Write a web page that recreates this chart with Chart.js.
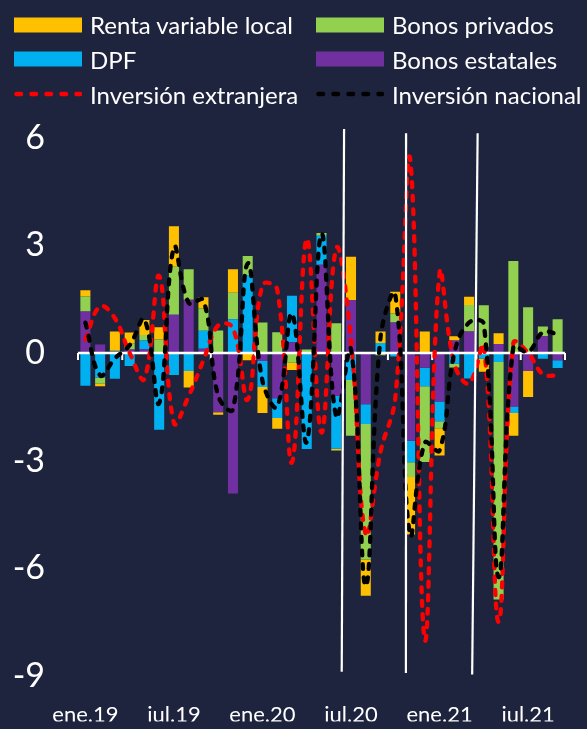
<!DOCTYPE html>
<html><head><meta charset="utf-8">
<script src="https://cdn.jsdelivr.net/npm/chart.js@4.4.1/dist/chart.umd.min.js"></script>
<style>
html,body{margin:0;padding:0;background:#1f243e;}
#wrap{position:relative;width:587px;height:729px;overflow:hidden;background:#1f243e;}
#c{position:absolute;left:0;top:0;}
#legend{position:absolute;left:0;top:0;width:587px;height:110px;font-family:Lato,sans-serif;color:#fff;font-size:24px;}
.item{position:absolute;display:flex;align-items:center;white-space:nowrap;height:30px;}
.item svg{margin-right:8px;display:block;}
</style></head>
<body><div id="wrap"><canvas id="c" width="587" height="729"></canvas><div id="legend"></div></div>
<script>
const categories = ['ene.19','feb.19','mar.19','abr.19','may.19','jun.19','jul.19','ago.19','sep.19','oct.19','nov.19','dic.19',
  'ene.20','feb.20','mar.20','abr.20','may.20','jun.20','jul.20','ago.20','sep.20','oct.20','nov.20','dic.20',
  'ene.21','feb.21','mar.21','abr.21','may.21','jun.21','jul.21','ago.21','sep.21'];
const tickLabels = ['ene.19','jul.19','ene.20','jul.20','ene.21','jul.21'];
const yTicks = [-9,-6,-3,0,3,6];

const rentaVariableLocal = [0.17,-0.07,0.52,0.30,0.42,0.34,1.13,-0.46,0.32,-0.07,0.66,-0.20,
  -0.72,-0.30,-0.20,0,0,-0.05,1.22,-1.01,0.32,0.61,-1.60,0.60,
  -0.76,0.12,0.23,-0.36,0.30,-0.64,-0.73,0,0];
const bonosPrivados = [0.42,-0.18,0.04,0.17,0.15,0.38,1.34,0.85,0.62,0.60,0.74,0.53,
  0.85,0.58,-0.27,0.10,0.08,0.83,-1.56,-3.78,-0.06,0.25,-0.41,-2.11,
  -0.20,-0.10,0.74,1.16,-6.63,2.57,1.28,0.27,0.94];
const dpf = [-0.91,-0.68,-0.72,-0.36,0.24,-2.14,-0.61,-0.50,0.50,0.03,0.94,2.18,
  -0.73,-0.55,1.30,-2.68,0.81,-1.47,-0.75,-0.55,0.28,-0.10,-0.60,-0.52,
  -0.55,-0.30,-0.71,-0.16,-0.25,-0.18,0,-0.16,-0.22];
const bonosEstatales = [1.16,0.24,0.04,0.10,0.11,0,1.07,1.49,0.12,-1.65,-3.92,0,
  -0.22,-1.26,0.30,0,2.46,-1.20,1.47,-1.43,0,0.85,-2.45,-0.41,
  -1.35,0.35,0.60,0.17,0.25,-1.49,-0.50,0.47,-0.20];
const inversionExtranjera = [0.38,1.30,0.97,0.00,-0.72,2.15,-1.95,-1.20,-0.20,0.77,0.70,-1.30,
  1.90,1.77,-3.05,3.19,-2.22,2.92,0.35,-5.06,-2.75,-1.25,5.44,-8.0,
  2.23,-0.30,-0.85,0.20,-7.5,0.28,0.0,-0.59,-0.63];
const inversionNacional = [0.85,-0.62,-0.15,0.22,0.94,-1.40,2.95,1.40,1.48,-1.20,-1.57,2.50,
  -0.78,-1.50,1.10,-2.48,3.33,-1.78,0.10,-6.50,0.44,1.63,-5.06,-2.50,
  -2.72,0.00,0.85,0.81,-6.25,0.17,0.03,0.58,0.53];

// annotation lines in data space: [startIndex, startValue, endIndex, endValue]
const breakLines = [[17.53,6.25,17.37,-8.89],[21.73,6.13,21.72,-8.93],[26.58,6.13,26.21,-8.97]];

const COLORS = {renta:'#FFC000', privados:'#92D050', dpf:'#00B0F0', estatales:'#7030A0', ext:'#FF0000', nac:'#000000'};

const zeroLinePlugin = {
  id:'zeroLine',
  afterDatasetDraw(chart, args){
    if (args.index !== 0) return;
    const {ctx, chartArea, scales:{x,y}} = chart;
    const y0 = y.getPixelForValue(0);
    ctx.save();
    ctx.strokeStyle = '#ffffff';
    ctx.lineWidth = 2.5;
    ctx.beginPath(); ctx.moveTo(chartArea.left, y0); ctx.lineTo(chartArea.right, y0); ctx.stroke();
    ctx.lineWidth = 2;
    for (let i = 0; i <= categories.length; i += 3){
      const px = x.getPixelForValue(i - 0.5);
      ctx.beginPath(); ctx.moveTo(px, y0); ctx.lineTo(px, y0 + 7); ctx.stroke();
    }
    ctx.restore();
  }
};
const breakLinesPlugin = {
  id:'breakLines',
  afterDatasetsDraw(chart){
    const {ctx, scales:{x,y}} = chart;
    ctx.save();
    ctx.strokeStyle = '#ffffff';
    ctx.lineWidth = 2.2;
    breakLines.forEach(l => {
      ctx.beginPath();
      ctx.moveTo(x.getPixelForValue(l[0]), y.getPixelForValue(l[1]));
      ctx.lineTo(x.getPixelForValue(l[2]), y.getPixelForValue(l[3]));
      ctx.stroke();
    });
    ctx.restore();
  }
};

const barDs = (label, data, color) => ({type:'bar', label, data, backgroundColor:color, borderWidth:0,
  stack:'bars', order:2, barPercentage:0.68, categoryPercentage:1});
const lineDs = (label, data, color, order) => ({type:'line', label, data, borderColor:color, backgroundColor:color,
  borderWidth:4.3, borderDash:[5,8.5], borderCapStyle:'round', pointRadius:0, tension:0.4, fill:false,
  stack:label, order});

const chart = new Chart(document.getElementById('c'), {
  data:{
    labels: categories,
    datasets:[
      barDs('Bonos estatales', bonosEstatales, COLORS.estatales),
      barDs('DPF', dpf, COLORS.dpf),
      barDs('Bonos privados', bonosPrivados, COLORS.privados),
      barDs('Renta variable local', rentaVariableLocal, COLORS.renta),
      lineDs('Inversión extranjera', inversionExtranjera, COLORS.ext, 1),
      lineDs('Inversión nacional', inversionNacional, COLORS.nac, 0)
    ]
  },
  options:{
    responsive:false, animation:false,
    layout:{padding:{top:138, right:22, left:0, bottom:0}},
    plugins:{legend:{display:false}, tooltip:{enabled:false}},
    scales:{
      x:{stacked:true, offset:true,
        grid:{display:false, drawTicks:false}, border:{display:false},
        ticks:{autoSkip:false, maxRotation:0, minRotation:0, color:'#ffffff', padding:26,
          font:{family:'Lato', size:22},
          callback:(v,i)=> tickLabels.includes(categories[i]) ? categories[i] : ''},
        afterFit:s=>{s.height = 46;}
      },
      y:{stacked:true, min:-9, max:6,
        grid:{display:false, drawTicks:false}, border:{display:false},
        afterBuildTicks:s=>{s.ticks = yTicks.map(v=>({value:v}));},
        ticks:{color:'#ffffff', padding:33, font:{family:'Lato', size:34}},
        afterFit:s=>{s.width = 78;}
      }
    }
  },
  plugins:[zeroLinePlugin, breakLinesPlugin]
});

// HTML legend built from the chart datasets
const legendOrder = ['Renta variable local','Bonos privados','DPF','Bonos estatales','Inversión extranjera','Inversión nacional'];
const legendCols = [14, 316];
const legendRows = [24.5, 59, 94];
const legendEl = document.getElementById('legend');
legendOrder.forEach((name, k) => {
  const ds = chart.data.datasets.find(d => d.label === name);
  const item = document.createElement('div');
  item.className = 'item';
  item.style.left = legendCols[k % 2] + 'px';
  item.style.top = (legendRows[Math.floor(k / 2)] - 15) + 'px';
  let sw;
  if (ds.type === 'bar') {
    sw = `<svg width="68" height="16"><rect x="0" y="0.5" width="68" height="15" fill="${ds.backgroundColor}"/></svg>`;
  } else {
    sw = `<svg width="68" height="16"><line x1="2.5" y1="8" x2="66" y2="8" stroke="${ds.borderColor}" stroke-width="4.5" stroke-linecap="round" stroke-dasharray="4.5 10.5"/></svg>`;
  }
  item.innerHTML = sw + `<span>${name}</span>`;
  legendEl.appendChild(item);
});
</script>
</body></html>
